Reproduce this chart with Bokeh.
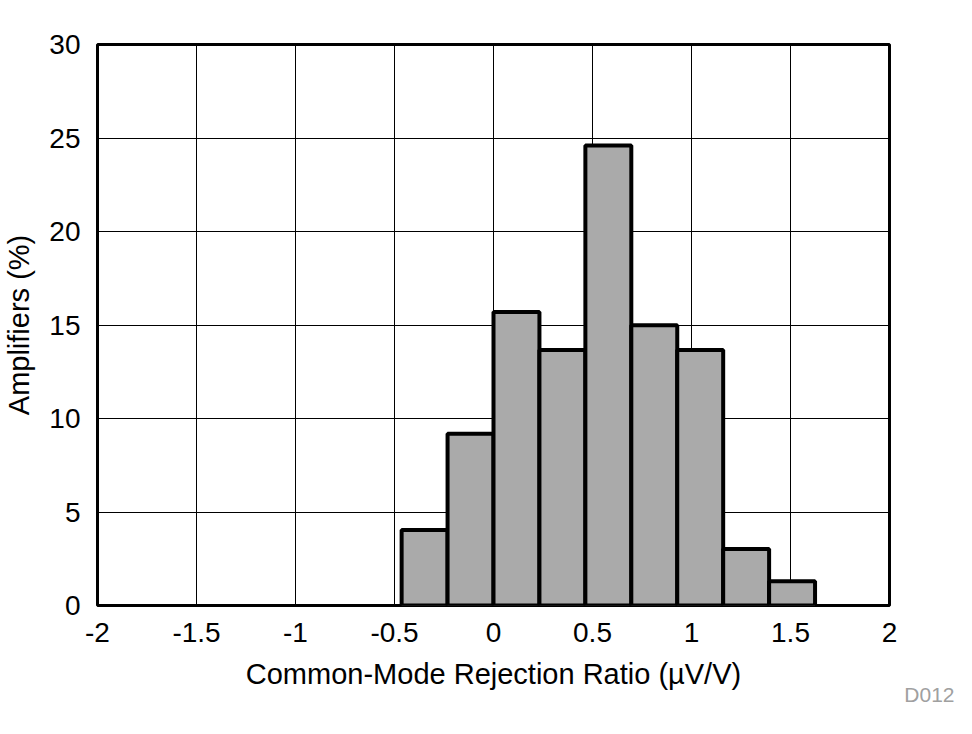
from bokeh.plotting import figure
from bokeh.models import Range1d, FixedTicker, Title
from bokeh.embed import file_html
from bokeh.resources import INLINE

# Data
bin_left = [-0.464, -0.232, 0.0, 0.232, 0.464, 0.696, 0.928, 1.160, 1.392]
bin_right = [-0.232, 0.0, 0.232, 0.464, 0.696, 0.928, 1.160, 1.392, 1.624]
percent = [4.04, 9.19, 15.7, 13.66, 24.6, 14.98, 13.66, 3.02, 1.3]
x_ticks = [-2, -1.5, -1, -0.5, 0, 0.5, 1, 1.5, 2]
y_ticks = [0, 5, 10, 15, 20, 25, 30]

FONT = "Liberation Sans"

p = figure(width=972, height=734, output_backend="svg", toolbar_location=None,
           x_range=Range1d(-2, 2), y_range=Range1d(0, 30),
           min_border_left=95, min_border_right=83, min_border_top=44, min_border_bottom=129)
p.background_fill_color = "white"
p.border_fill_color = "white"
p.outline_line_color = "black"
p.outline_line_width = 3

p.quad(left=bin_left, right=bin_right, bottom=0, top=percent,
       fill_color="#aaaaaa", line_color="black", line_width=4)

p.xgrid.ticker = FixedTicker(ticks=x_ticks)
p.ygrid.ticker = FixedTicker(ticks=y_ticks)
for g in (p.xgrid, p.ygrid):
    g.grid_line_color = "black"
    g.grid_line_width = 1
    g.grid_line_alpha = 1

p.xaxis.ticker = FixedTicker(ticks=x_ticks)
p.yaxis.ticker = FixedTicker(ticks=y_ticks)
p.xaxis.major_label_overrides = {-2: "-2", -1.5: "-1.5", -1: "-1", -0.5: "-0.5", 0: "0",
                                 0.5: "0.5", 1: "1", 1.5: "1.5", 2: "2"}
for ax in (p.xaxis, p.yaxis):
    ax.axis_line_color = None
    ax.major_tick_line_color = None
    ax.minor_tick_line_color = None
    ax.major_label_text_font = FONT
    ax.major_label_text_font_size = "28px"
    ax.major_label_text_color = "black"
    ax.axis_label_text_font = FONT
    ax.axis_label_text_font_size = "29px"
    ax.axis_label_text_font_style = "normal"
    ax.axis_label_text_color = "black"

p.xaxis.axis_label = "Common-Mode Rejection Ratio (\u00b5V/V)"
p.yaxis.axis_label = "Amplifiers (%)"
p.xaxis.major_label_standoff = 11
p.yaxis.major_label_standoff = 11
p.xaxis.axis_label_standoff = 13
p.yaxis.axis_label_standoff = 11

p.add_layout(Title(text="D012", align="right", offset=-65, standoff=-27,
                   text_font=FONT, text_font_size="21px", text_color="#a0a0a0",
                   text_font_style="normal"), "below")

open("out.html", "w").write(file_html(p, INLINE))
